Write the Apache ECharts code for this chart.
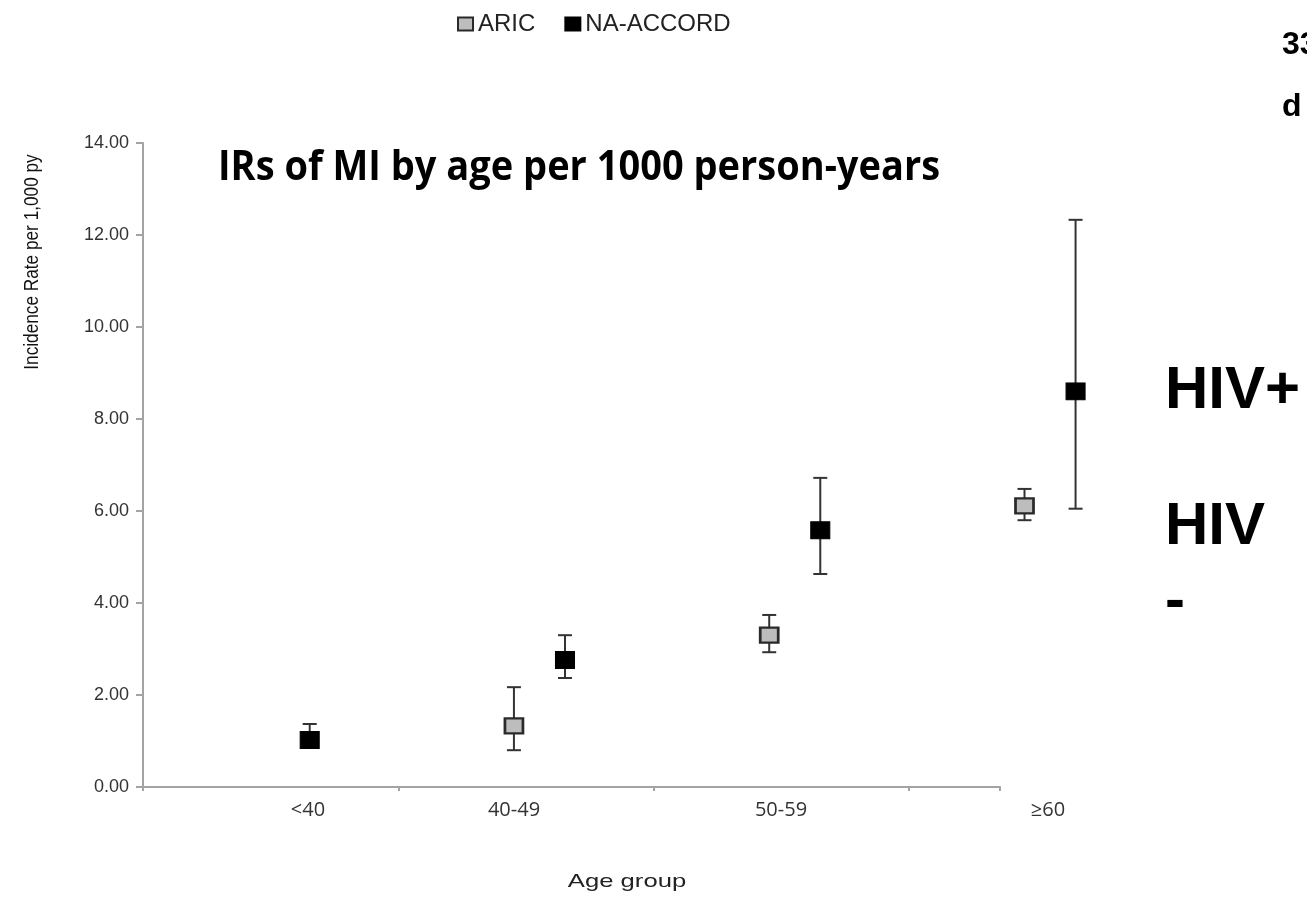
<!DOCTYPE html>
<html><head><meta charset="utf-8">
<script src="https://cdn.jsdelivr.net/npm/echarts/dist/echarts.min.js"></script>
<style>html,body{margin:0;padding:0;background:#fff}#c{width:1307px;height:921px}</style>
</head><body><div id="c"></div>
<script>
// ---- data ----
const ageGroups = ['<40', '40-49', '50-59', '\u226560'];
const aricRate = [null, 1.33, 3.30, 6.11];
const aricLow  = [null, 0.80, 2.93, 5.80];
const aricHigh = [null, 2.17, 3.74, 6.48];
const naRate = [1.02, 2.76, 5.58, 8.60];
const naLow  = [0.85, 2.37, 4.63, 6.05];
const naHigh = [1.37, 3.30, 6.72, 12.33];
const yTicks = [0, 2, 4, 6, 8, 10, 12, 14];
const seriesNames = ['ARIC', 'NA-ACCORD'];

// ---- layout ----
const offsets = [-0.047, 0.153];
const chart = echarts.init(document.getElementById('c'), null, {renderer: 'canvas'});

function pts(rate, off) {
  return rate.map((v, i) => v == null ? null : [i + 0.5 + off, v]).filter(d => d);
}
function bars(rate, lo, hi, off) {
  return rate.map((v, i) => v == null ? null : [i + 0.5 + off, lo[i], hi[i]]).filter(d => d);
}
function errRender(params, api) {
  const x = api.value(0), lo = api.value(1), hi = api.value(2);
  const a = api.coord([x, lo]), b = api.coord([x, hi]);
  const hw = 7, st = {stroke: '#333', lineWidth: 2};
  return {type: 'group', children: [
    {type: 'line', shape: {x1: a[0], y1: a[1], x2: b[0], y2: b[1]}, style: st},
    {type: 'line', shape: {x1: a[0] - hw, y1: a[1], x2: a[0] + hw, y2: a[1]}, style: st},
    {type: 'line', shape: {x1: b[0] - hw, y1: b[1], x2: b[0] + hw, y2: b[1]}, style: st}
  ]};
}

const axisGrey = '#a3a3a3';
const option = {
  backgroundColor: '#fff',
  animation: false,
  grid: {left: 143, right: 307, top: 143, bottom: 134},
  legend: {
    data: seriesNames.map(n => ({name: n, icon: 'rect'})),
    left: 452, top: 7, itemWidth: 15, itemHeight: 13, itemGap: 29,
    textStyle: {fontFamily: 'Liberation Sans, Arial', fontSize: 24, color: '#222'}
  },
  xAxis: {
    type: 'value', min: 0, max: 3.357, interval: 1,
    axisLine: {show: true, lineStyle: {color: axisGrey, width: 2}},
    axisTick: {show: true, length: 4, lineStyle: {color: axisGrey, width: 2}},
    axisLabel: {show: false}, splitLine: {show: false}
  },
  yAxis: {
    type: 'value', min: yTicks[0], max: yTicks[yTicks.length - 1], interval: 2,
    axisLine: {show: true, lineStyle: {color: axisGrey, width: 2}},
    axisTick: {show: true, length: 7, lineStyle: {color: axisGrey, width: 2}},
    axisLabel: {margin: 14, fontFamily: 'Liberation Sans, Arial', fontSize: 18, color: '#333',
      formatter: v => v.toFixed(2)},
    splitLine: {show: false}
  },
  series: [
    {type: 'custom', name: 'ARIC-err', renderItem: errRender, clip: false, z: 1,
      encode: {x: 0, y: [1, 2]}, data: bars(aricRate, aricLow, aricHigh, offsets[0]), silent: true},
    {type: 'custom', name: 'NA-err', renderItem: errRender, clip: false, z: 1,
      encode: {x: 0, y: [1, 2]}, data: bars(naRate, naLow, naHigh, offsets[1]), silent: true},
    {type: 'scatter', name: seriesNames[0], symbol: 'rect', symbolSize: [18, 15], clip: false, z: 3,
      itemStyle: {color: '#bdbdbd', borderColor: '#2a2a2a', borderWidth: 2.5, opacity: 1},
      data: pts(aricRate, offsets[0])},
    {type: 'scatter', name: seriesNames[1], symbol: 'rect', symbolSize: [19, 17], clip: false, z: 3,
      itemStyle: {color: '#000', borderColor: '#000', borderWidth: 1, opacity: 1},
      data: pts(naRate, offsets[1])}
  ],
  graphic: [
    {type: 'text', x: 218, y: 168, scaleY: 1.08, style: {text: 'IRs of MI by age per 1000 person-years',
      font: 'bold 38px "Open Sans", sans-serif', fill: '#000', textVerticalAlign: 'middle'}},
    {type: 'text', x: 32, y: 262, rotation: Math.PI / 2, scaleX: 0.82, style: {text: 'Incidence Rate per 1,000 py',
      font: '21px "Liberation Sans", Arial', fill: '#111', textAlign: 'center', textVerticalAlign: 'middle'}},
    {type: 'text', x: 627, y: 882, scaleX: 1.35, style: {text: 'Age group', font: '19px "Liberation Sans", Arial', fill: '#222',
      textAlign: 'center', textVerticalAlign: 'middle'}},
    {type: 'text', x: 1165, y: 391, style: {text: 'HIV+', font: 'bold 60px "Liberation Sans", Arial', fill: '#000',
      textVerticalAlign: 'middle'}},
    {type: 'text', x: 1165, y: 527, style: {text: 'HIV', font: 'bold 60px "Liberation Sans", Arial', fill: '#000',
      textVerticalAlign: 'middle'}},
    {type: 'text', x: 1165, y: 602, style: {text: '-', font: 'bold 60px "Liberation Sans", Arial', fill: '#000',
      textVerticalAlign: 'middle'}},
    {type: 'text', x: 1282, y: 45, style: {text: '33', font: 'bold 32px "Liberation Sans", Arial', fill: '#000',
      textVerticalAlign: 'middle'}},
    {type: 'text', x: 1282, y: 107, style: {text: 'd', font: 'bold 32px "Liberation Sans", Arial', fill: '#000',
      textVerticalAlign: 'middle'}}
  ]
};
chart.setOption(option);

// category labels of the overlaid age-group axis
const labelX = [308, 514, 781, 1048];
chart.setOption({graphic: ageGroups.map((t, i) => ({
  type: 'text', id: 'xl' + i, x: labelX[i], y: 810,
  style: {text: t, font: '20px "Open Sans", sans-serif', fill: '#333', textAlign: 'center', textVerticalAlign: 'middle'}
}))});
</script>
</body></html>
